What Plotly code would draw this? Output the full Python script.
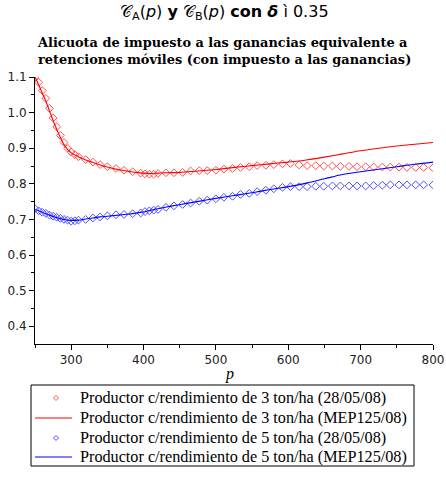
import plotly.graph_objects as go

# ---- data ----
p_line_a = [250, 255, 260, 265, 270, 275, 280, 285, 290, 295, 300, 310, 320, 330, 340, 350, 360, 370, 380,
            390, 400, 410, 420, 430, 450, 475, 500, 525, 550, 575, 600, 625, 650, 675, 700, 725, 750, 775, 800]
v_line_a = [1.100, 1.078, 1.055, 1.032, 1.005, 0.978, 0.953, 0.930, 0.910, 0.897, 0.887, 0.876, 0.867, 0.860,
            0.853, 0.847, 0.842, 0.838, 0.835, 0.832, 0.830, 0.829, 0.830, 0.831, 0.832, 0.836, 0.840, 0.846,
            0.851, 0.856, 0.861, 0.867, 0.875, 0.884, 0.893, 0.900, 0.906, 0.911, 0.916]

p_line_b = [250, 260, 270, 280, 290, 300, 310, 320, 330, 340, 350, 360, 370, 380, 390, 400, 420, 440, 460,
            480, 500, 525, 550, 575, 600, 625, 650, 675, 700, 725, 750, 775, 800]
v_line_b = [0.728, 0.720, 0.712, 0.705, 0.700, 0.697, 0.698, 0.701, 0.704, 0.707, 0.709, 0.711, 0.713, 0.715,
            0.718, 0.721, 0.730, 0.738, 0.745, 0.752, 0.759, 0.767, 0.775, 0.784, 0.792, 0.802, 0.814, 0.826,
            0.834, 0.841, 0.848, 0.855, 0.861]

p_pts = [250, 255, 260, 265, 270, 275, 280, 285, 290, 295, 300, 305, 310, 320, 330, 340, 350, 362, 373, 385,
         396, 402, 408, 414, 420, 431, 442, 454, 465, 477, 488, 500, 511, 523, 534, 546, 557, 569, 580, 592,
         603, 615, 626, 638, 649, 661, 672, 684, 695, 707, 718, 730, 741, 753, 764, 776, 787, 800]
v_pts_a = [1.100, 1.085, 1.062, 1.040, 1.012, 0.985, 0.960, 0.936, 0.916, 0.900, 0.889, 0.882, 0.876, 0.868,
           0.861, 0.854, 0.848, 0.843, 0.838, 0.834, 0.830, 0.828, 0.827, 0.827, 0.829, 0.831, 0.831, 0.832,
           0.836, 0.837, 0.837, 0.838, 0.841, 0.843, 0.846, 0.848, 0.851, 0.852, 0.854, 0.856, 0.857, 0.853,
           0.851, 0.851, 0.850, 0.850, 0.849, 0.849, 0.848, 0.848, 0.847, 0.847, 0.847, 0.847, 0.846, 0.846,
           0.846, 0.845]
v_pts_b = [0.730, 0.724, 0.720, 0.717, 0.712, 0.709, 0.706, 0.703, 0.700, 0.698, 0.695, 0.696, 0.698, 0.700,
           0.704, 0.707, 0.710, 0.713, 0.714, 0.716, 0.718, 0.722, 0.724, 0.726, 0.728, 0.734, 0.738, 0.742,
           0.746, 0.751, 0.754, 0.758, 0.762, 0.765, 0.770, 0.773, 0.778, 0.782, 0.786, 0.790, 0.792, 0.792,
           0.792, 0.793, 0.793, 0.794, 0.794, 0.794, 0.794, 0.794, 0.795, 0.796, 0.797, 0.797, 0.797, 0.797,
           0.797, 0.797]

names = ["Productor c/rendimiento de 3 ton/ha (28/05/08)",
         "Productor c/rendimiento de 3 ton/ha (MEP125/08)",
         "Productor c/rendimiento de 5 ton/ha (28/05/08)",
         "Productor c/rendimiento de 5 ton/ha (MEP125/08)"]

title1 = "𝒞<sub>A</sub>(<i>p</i>) <b>y</b> 𝒞<sub>B</sub>(<i>p</i>) <b>con</b> <b><i>δ</i></b> ì 0.35"
title2 = "Alicuota de impuesto a las ganancias equivalente a<br>retenciones móviles (con impuesto a las ganancias)"

RED = "#ff0000"
BLUE = "#0000ff"
RED_M = "#ff5050"
BLUE_M = "#5050ff"

W, H = 446, 478
ML, MR, MT, MB = 35, 13, 77, 134
PW, PH = W - ML - MR, H - MT - MB


def px_x(x):
    return (x - ML) / PW


def px_y(y):
    return (H - MB - y) / PH


fig = go.Figure()
fig.add_trace(go.Scatter(x=p_pts, y=v_pts_a, mode="markers", name=names[0], showlegend=False,
                         marker=dict(symbol="diamond-open", size=6, color=RED_M, line=dict(width=1))))
fig.add_trace(go.Scatter(x=p_line_a, y=v_line_a, mode="lines", name=names[1], showlegend=False,
                         line=dict(color=RED, width=1.1, shape="spline")))
fig.add_trace(go.Scatter(x=p_pts, y=v_pts_b, mode="markers", name=names[2], showlegend=False,
                         marker=dict(symbol="diamond-open", size=6, color=BLUE_M, line=dict(width=1))))
fig.add_trace(go.Scatter(x=p_line_b, y=v_line_b, mode="lines", name=names[3], showlegend=False,
                         line=dict(color=BLUE, width=1.1, shape="spline")))

axis_common = dict(showline=True, linecolor="black", linewidth=1, ticks="outside", ticklen=5,
                   tickcolor="black", showgrid=False, zeroline=False,
                   tickfont=dict(family="DejaVu Sans", size=12, color="#222"))

fig.update_xaxes(range=[250, 800], tickvals=[300, 400, 500, 600, 700, 800],
                 minor=dict(tickvals=[250, 350, 450, 550, 650, 750], ticklen=3, tickcolor="black", ticks="outside"),
                 **axis_common)
fig.update_yaxes(range=[0.35, 1.1], tickvals=[0.4, 0.5, 0.6, 0.7, 0.8, 0.9, 1.0, 1.1],
                 ticktext=["0.4", "0.5", "0.6", "0.7", "0.8", "0.9", "1.0", "1.1"],
                 minor=dict(tickvals=[0.45, 0.55, 0.65, 0.75, 0.85, 0.95, 1.05], ticklen=3, tickcolor="black", ticks="outside"),
                 **axis_common)

# ---- manual legend ----
shapes = [dict(type="rect", xref="paper", yref="paper", x0=px_x(31), x1=px_x(414), y0=px_y(385), y1=px_y(466),
               line=dict(color="black", width=1), fillcolor="white", layer="above")]
annotations = []
row_y = [398, 418, 438, 457]
kinds = [("marker", RED_M), ("line", RED), ("marker", BLUE_M), ("line", BLUE)]
for (kind, col), ry, nm in zip(kinds, row_y, names):
    if kind == "line":
        shapes.append(dict(type="line", xref="paper", yref="paper", x0=px_x(35), x1=px_x(72),
                           y0=px_y(ry), y1=px_y(ry), line=dict(color=col, width=1.1), layer="above"))
    else:
        shapes.append(dict(type="path", xref="paper", yref="paper", xsizemode="pixel", ysizemode="pixel",
                           xanchor=px_x(56), yanchor=px_y(ry), path="M 0,2.5 L 2.5,0 L 0,-2.5 L -2.5,0 Z",
                           line=dict(color=col, width=1), layer="above"))
    annotations.append(dict(text=nm, xref="paper", yref="paper", x=px_x(78), y=px_y(ry), xanchor="left",
                            yanchor="middle", showarrow=False,
                            font=dict(family="Liberation Serif", size=16.2, color="black")))

annotations += [
    dict(text=title1, xref="paper", yref="paper", x=px_x(224), y=px_y(12), xanchor="center", yanchor="middle",
         showarrow=False, font=dict(family="DejaVu Sans", size=16, color="black")),
    dict(text="<b>" + title2 + "</b>", xref="paper", yref="paper", x=px_x(35), y=px_y(51), xanchor="left",
         yanchor="middle", showarrow=False, align="left",
         font=dict(family="DejaVu Serif", size=12.9, color="black")),
    dict(text="<i>p</i>", xref="paper", yref="paper", x=px_x(229), y=px_y(374), xanchor="center", yanchor="middle",
         showarrow=False, font=dict(family="Liberation Serif", size=16, color="black")),
]

fig.update_layout(
    width=W, height=H,
    margin=dict(l=ML, r=MR, t=MT, b=MB, autoexpand=False),
    plot_bgcolor="white", paper_bgcolor="white",
    showlegend=False,
    shapes=shapes,
    annotations=annotations,
)

fig.write_html("out.html")
